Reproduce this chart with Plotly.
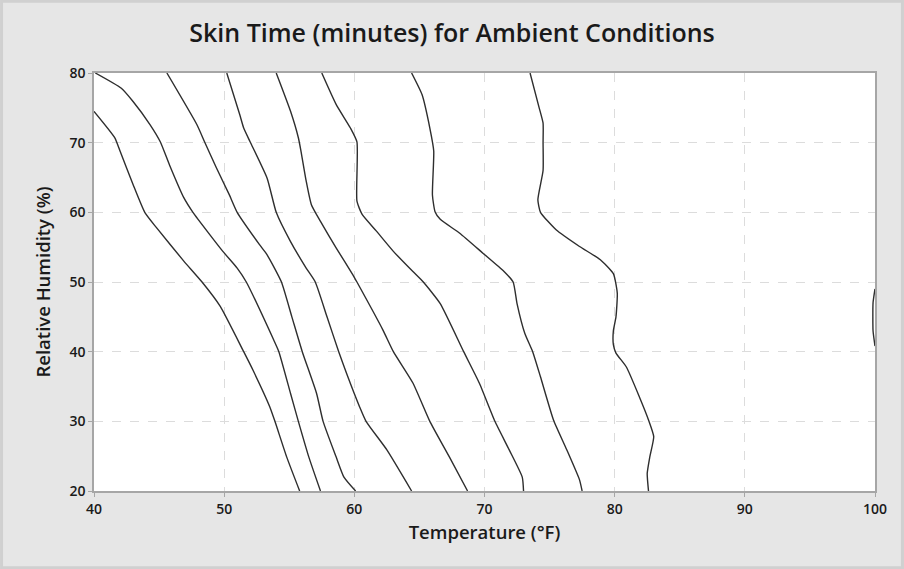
import plotly.graph_objects as go

# Contour lines: temperature (°F) vs relative humidity (%)
line_a_temp = [40.0, 41.6, 42.0, 43.0, 43.9, 44.8, 46.9, 48.3, 49.7, 51.5, 52.2, 53.5, 53.9, 54.8, 55.8]
line_a_rh = [74.5, 70.7, 68.8, 64.0, 60.0, 57.8, 53.0, 50.0, 46.5, 40.0, 37.4, 32.1, 30.0, 24.9, 20.0]

line_b_temp = [40.1, 42.1, 43.0, 44.3, 45.1, 45.8, 46.9, 47.6, 49.9, 51.0, 51.7, 53.8, 54.2, 55.1, 55.7, 56.5, 57.4]
line_b_rh = [80.0, 77.8, 75.9, 72.6, 70.1, 66.8, 62.1, 60.0, 54.4, 52.0, 50.0, 41.7, 40.0, 34.0, 30.0, 24.9, 20.0]

line_c_temp = [45.6, 47.9, 48.5, 49.4, 50.4, 51.0, 52.7, 53.3, 54.4, 55.2, 56.0, 57.1, 57.6, 58.6, 59.2, 60.1]
line_c_rh = [80.0, 72.6, 70.1, 66.4, 62.5, 60.0, 55.4, 53.9, 50.0, 45.0, 40.0, 34.0, 30.0, 24.9, 22.0, 20.0]

line_d_temp = [50.2, 51.2, 51.5, 52.0, 53.3, 54.0, 55.1, 56.3, 57.0, 57.9, 58.8, 59.4, 60.4, 60.9, 62.5, 64.4]
line_d_rh = [80.0, 74.0, 72.1, 70.1, 64.9, 60.0, 55.8, 52.0, 50.0, 45.0, 40.0, 36.9, 32.1, 30.0, 25.9, 20.0]

line_e_temp = [54.0, 55.1, 55.7, 55.9, 56.3, 56.7, 57.4, 58.6, 59.9, 60.2, 62.2, 63.0, 64.5, 65.8, 67.3, 68.7]
line_e_rh = [80.0, 74.5, 70.7, 68.8, 64.5, 61.1, 58.7, 54.9, 51.0, 50.0, 43.1, 40.0, 35.5, 30.0, 24.9, 20.0]

line_f_temp = [57.5, 58.6, 59.7, 60.2, 60.2, 60.6, 61.7, 63.0, 64.5, 65.3, 66.6, 68.4, 69.6, 70.8, 71.9, 72.9, 73.0]
line_f_rh = [80.0, 75.5, 72.1, 70.1, 61.6, 59.7, 57.3, 54.4, 51.5, 50.0, 46.9, 40.0, 35.5, 30.0, 25.9, 22.0, 20.0]

line_g_temp = [64.4, 65.2, 65.8, 66.1, 66.0, 66.2, 66.6, 68.1, 69.9, 71.5, 72.2, 72.5, 73.1, 73.7, 74.3, 75.3, 76.3, 77.3, 77.5]
line_g_rh = [80.0, 76.9, 72.1, 68.8, 62.5, 60.1, 59.0, 57.0, 54.1, 51.5, 50.0, 46.9, 42.6, 40.0, 36.4, 30.2, 26.0, 21.6, 20.0]

line_h_temp = [73.5, 74.2, 74.5, 74.5, 74.5, 74.1, 74.3, 75.5, 77.3, 78.9, 79.9, 80.2, 80.1, 79.9, 79.9, 80.1,
               80.9, 81.9, 82.6, 83.0, 82.7, 82.5, 82.6]
line_h_rh = [80.0, 75.0, 72.8, 70.0, 66.0, 61.8, 60.0, 57.5, 55.1, 53.2, 51.2, 48.4, 45.0, 43.0, 41.0, 39.8,
             37.8, 33.5, 30.2, 27.8, 24.9, 22.5, 20.0]

line_i_temp = [100.0, 99.85, 99.85, 100.0]
line_i_rh = [49.0, 47.0, 43.0, 40.8]

x_ticks = [40, 50, 60, 70, 80, 90, 100]
y_ticks = [20, 30, 40, 50, 60, 70, 80]

lines = [
    (line_a_temp, line_a_rh), (line_b_temp, line_b_rh), (line_c_temp, line_c_rh),
    (line_d_temp, line_d_rh), (line_e_temp, line_e_rh), (line_f_temp, line_f_rh),
    (line_g_temp, line_g_rh), (line_h_temp, line_h_rh), (line_i_temp, line_i_rh),
]

W, H = 904, 569
ML, MR, MT, MB = 94, 29, 73, 78

fig = go.Figure()
for xs, ys in lines:
    fig.add_trace(go.Scatter(
        x=xs, y=ys, mode="lines",
        line=dict(color="#2e2e2e", width=1.4, shape="spline", smoothing=0.5),
        showlegend=False, hoverinfo="skip",
    ))

font_family = "Open Sans, Noto Sans, sans-serif"

fig.update_layout(
    width=W, height=H,
    paper_bgcolor="#e6e6e6",
    plot_bgcolor="#ffffff",
    margin=dict(l=ML, r=MR, t=MT, b=MB),
    title=dict(
        text="Skin Time (minutes) for Ambient Conditions",
        x=0.5, xanchor="center", y=0.942, yanchor="middle",
        font=dict(family=font_family, size=25, color="#1a1a1a", weight=600),
    ),
    font=dict(family=font_family, color="#1a1a1a"),
)

axis_common = dict(
    showline=True, linecolor="#a6a6a6", linewidth=1.5, mirror=True,
    ticks="outside", ticklen=4, tickcolor="#a6a6a6",
    showgrid=True, gridcolor="#dcdcdc", griddash="dash", gridwidth=1,
    zeroline=False,
    tickfont=dict(family=font_family, size=14, color="#1a1a1a", weight=600),
)

fig.update_xaxes(
    range=[40, 100], tickvals=x_ticks, ticktext=[str(v) for v in x_ticks],
    title=dict(text="Temperature (°F)", standoff=10,
               font=dict(family=font_family, size=18.5, color="#1a1a1a", weight=600)),
    **axis_common,
)
fig.update_yaxes(
    range=[20, 80], tickvals=y_ticks, ticktext=[str(v) for v in y_ticks],
    title=dict(text="Relative Humidity (%)", standoff=14,
               font=dict(family=font_family, size=18.5, color="#1a1a1a", weight=600)),
    **axis_common,
)

# thin darker frame around the whole picture
pw = W - ML - MR
ph = H - MT - MB
fig.add_shape(type="rect", xref="paper", yref="paper",
              x0=-ML / pw + 0.002, x1=1 + MR / pw - 0.002,
              y0=-MB / ph + 0.003, y1=1 + MT / ph - 0.003,
              line=dict(color="#d0d0d0", width=3), layer="below")

fig.write_html(
    "out.html",
    config={"displayModeBar": False},
    post_script="document.body.style.margin='0';document.body.style.padding='0';"
                "document.body.style.background='#e6e6e6';",
)
